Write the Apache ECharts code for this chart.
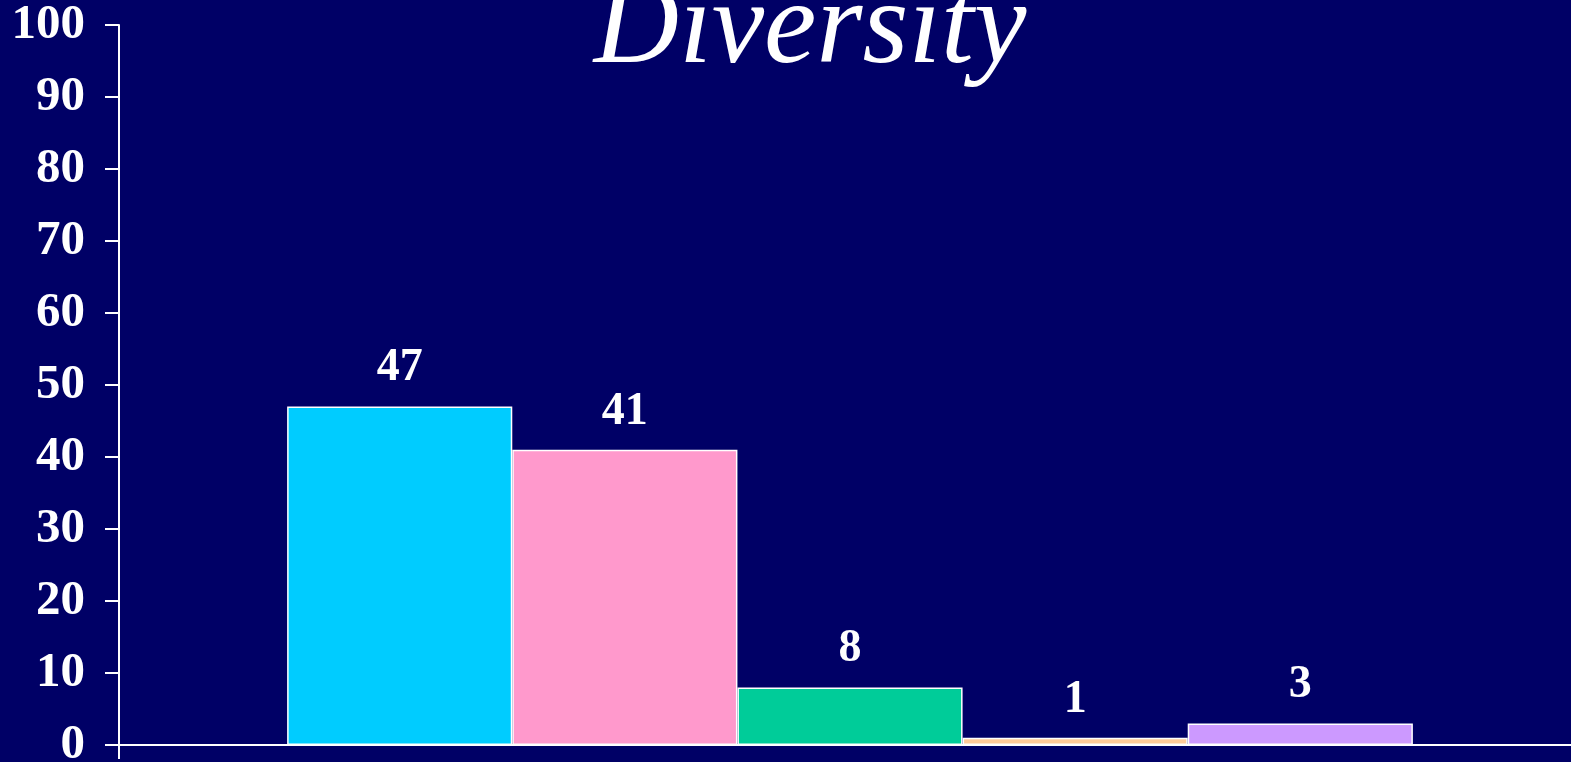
<!DOCTYPE html>
<html>
<head>
<meta charset="utf-8">
<style>
  html, body { margin: 0; padding: 0; background: #000066; }
  #chart { width: 1571px; height: 762px; }
</style>
<script src="https://cdn.jsdelivr.net/npm/echarts@6/dist/echarts.min.js"></script>
</head>
<body>
<div id="chart"></div>
<script>
// Chart data
const titleText = 'Diversity';
const categories = [''];
const seriesNames = ['Group 1', 'Group 2', 'Group 3', 'Group 4', 'Group 5'];
const seriesValues = [47, 41, 8, 1, 3];
const yTicks = [0, 10, 20, 30, 40, 50, 60, 70, 80, 90, 100];

// Bar fill colours, one per series
const barColors = ['#00CCFF', '#FF99CC', '#00CC99', '#FFCC99', '#CC99FF'];

const serif = '"Liberation Serif", "Times New Roman", serif';

const chart = echarts.init(document.getElementById('chart'), null, { renderer: 'canvas' });

const series = seriesNames.map((name, i) => ({
  name: name,
  type: 'bar',
  data: [seriesValues[i]],
  barGap: '0%',
  barCategoryGap: '23%',
  itemStyle: { color: barColors[i], borderColor: '#FFFFFF', borderWidth: 1.5 },
  label: {
    show: true,
    position: 'top',
    distance: 15,
    color: '#FFFFFF',
    fontFamily: serif,
    fontWeight: 'bold',
    fontSize: 46
  }
}));

chart.setOption({
  backgroundColor: '#000066',
  animation: false,
  title: {
    text: titleText,
    left: 805,
    top: -33,
    textAlign: 'center',
    textStyle: {
      color: '#FFFFFF',
      fontFamily: serif,
      fontStyle: 'italic',
      fontWeight: 'normal',
      fontSize: 118
    }
  },
  grid: {
    left: 119, right: -10, top: 25, bottom: 17,
    containLabel: false,
    outerBoundsMode: 'none'
  },
  xAxis: {
    type: 'category',
    data: categories,
    axisLine: { show: true, lineStyle: { color: '#FFFFFF', width: 2 } },
    axisTick: { show: true, length: 14, lineStyle: { color: '#FFFFFF', width: 2 } },
    axisLabel: { show: false },
    splitLine: { show: false }
  },
  yAxis: {
    type: 'value',
    min: yTicks[0],
    max: yTicks[yTicks.length - 1],
    interval: yTicks[1] - yTicks[0],
    axisLine: { show: true, lineStyle: { color: '#FFFFFF', width: 2 } },
    axisTick: { show: true, length: 14, lineStyle: { color: '#FFFFFF', width: 2 } },
    axisLabel: {
      color: '#FFFFFF',
      fontFamily: serif,
      fontWeight: 'bold',
      fontSize: 49,
      margin: 34
    },
    splitLine: { show: false }
  },
  series: series
});
</script>
</body>
</html>
